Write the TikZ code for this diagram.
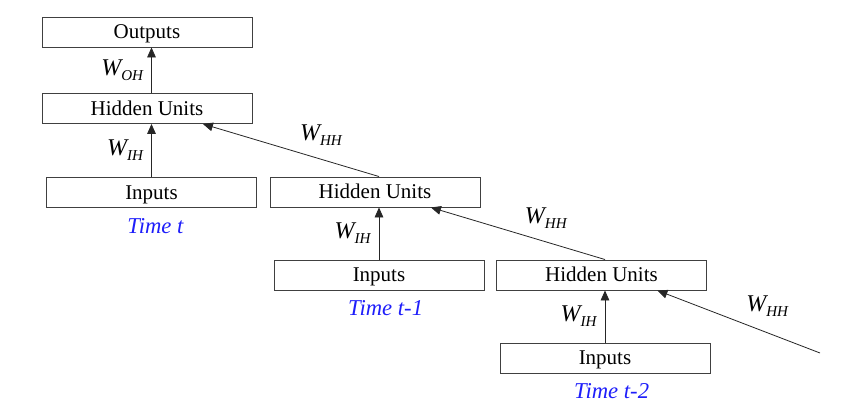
\documentclass[tikz,border=0pt]{standalone}
\usepackage{fontspec}
\setmainfont{Liberation Serif}
\usetikzlibrary{arrows.meta,positioning,calc}
\definecolor{timeblue}{RGB}{30,30,250}
\newcommand{\wsub}[1]{{\fontsize{18}{20}\selectfont\itshape W}{\fontsize{11.3}{12}\selectfont\itshape\raisebox{-3.75pt}{#1}}}

\begin{document}
\begin{tikzpicture}[x=0.75pt, y=-0.75pt, >={Triangle[length=7.5pt,width=6.5pt]},
  unit/.style={draw=black!75, line width=0.7pt, minimum width=157.5pt, minimum height=22.5pt, inner sep=0pt, text height=11pt, text depth=1.25pt, font=\fontsize{15.75}{18}\selectfont},
  timelab/.style={text=timeblue, font=\fontsize{17}{20}\selectfont\itshape},
  wlab/.style={inner sep=0pt},
  link/.style={draw=black!85, line width=0.6pt}]
\useasboundingbox (0,0) rectangle (847,418);
\node[unit] (out) at (147,32) {Outputs};
\node[unit] (hid0) at (147,108.5) {Hidden Units};
\node[unit] (in0) at (151.5,192.5) {Inputs};
\node[unit] (hid1) at (375,192) {Hidden Units};
\node[unit] (in1) at (379,275) {Inputs};
\node[unit] (hid2) at (601.5,275) {Hidden Units};
\node[unit] (in2) at (605,358) {Inputs};
\node[timelab, below=4pt of in0, xshift=3pt] (time0) {Time t};
\node[timelab, below=4pt of in1, xshift=5pt] (time1) {Time t-1};
\node[timelab, below=4pt of in2, xshift=5pt] (time2) {Time t-2};
\coordinate (prev) at (820,353);
% inputs to hidden, hidden to outputs
\draw[link, ->] (hid0.north -| in0.north) to node[wlab, left=6pt] (woh) {\wsub{OH}} (out.south -| in0.north);
\draw[link, ->] (in0.north) to node[wlab, left=6pt] (wih0) {\wsub{IH}} (in0.north |- hid0.south);
\draw[link, ->] (in1.north) to node[wlab, left=6pt] (wih1) {\wsub{IH}} (in1.north |- hid1.south);
\draw[link, ->] (in2.north) to node[wlab, left=6pt] (wih2) {\wsub{IH}} (in2.north |- hid2.south);
% hidden to hidden
\draw[link, ->] (hid1.north -| in1.north) to node[wlab, pos=.33, above=10pt] (whh1) {\wsub{HH}} ($(hid0.south)!.53!(hid0.south east)$);
\draw[link, ->] (hid2.north -| in2.north) to node[wlab, pos=.34, above=10pt] (whh2) {\wsub{HH}} ($(hid1.south)!.53!(hid1.south east)$);
\draw[link, ->] (prev) to node[wlab, pos=.325, above=11.5pt] (whh3) {\wsub{HH}} ($(hid2.south)!.53!(hid2.south east)$);
\end{tikzpicture}
\end{document}
